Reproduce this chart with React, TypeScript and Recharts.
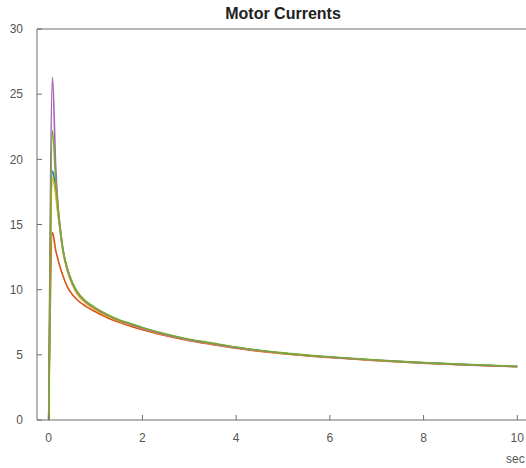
import React from 'react';
import { LineChart, Line, XAxis, YAxis } from 'recharts';

const time = [0, 0.08, 0.15, 0.2, 0.25, 0.3, 0.4, 0.5, 0.6, 0.8, 1, 1.25, 1.5, 1.75, 2, 2.5, 3, 3.5, 4, 5, 6, 7, 8, 9, 10];
const motor1 = [0, 19.1, 17.6, 15.9, 14.4, 13.1, 11.5, 10.5, 9.8, 9.0, 8.5, 8.0, 7.6, 7.3, 7.05, 6.55, 6.15, 5.85, 5.55, 5.12, 4.82, 4.58, 4.38, 4.23, 4.1];
const motor2 = [0, 14.4, 13.0, 12.3, 11.65, 11.1, 10.2, 9.65, 9.25, 8.7, 8.3, 7.85, 7.5, 7.2, 6.93, 6.46, 6.08, 5.78, 5.5, 5.08, 4.79, 4.55, 4.36, 4.21, 4.09];
const motor3 = [0, 18.6, 17.2, 15.7, 14.3, 13.0, 11.4, 10.4, 9.7, 8.95, 8.45, 7.95, 7.6, 7.3, 7.02, 6.52, 6.13, 5.83, 5.54, 5.11, 4.81, 4.57, 4.37, 4.22, 4.1];
const motor4 = [0, 26.3, 19.4, 16.4, 14.6, 13.2, 11.55, 10.55, 9.85, 9.05, 8.55, 8.05, 7.65, 7.35, 7.05, 6.55, 6.15, 5.85, 5.55, 5.12, 4.82, 4.58, 4.38, 4.23, 4.1];
const motor5 = [0, 22.2, 18.3, 16.2, 14.6, 13.2, 11.6, 10.6, 9.9, 9.1, 8.6, 8.1, 7.7, 7.4, 7.1, 6.6, 6.2, 5.9, 5.6, 5.15, 4.85, 4.6, 4.4, 4.25, 4.12];

const xTicks = [0, 2, 4, 6, 8, 10];
const yTicks = [0, 5, 10, 15, 20, 25, 30];

const series = [
  { key: 'm1', values: motor1, color: '#0072BD' },
  { key: 'm2', values: motor2, color: '#D95319' },
  { key: 'm3', values: motor3, color: '#EDB120' },
  { key: 'm4', values: motor4, color: '#A566B5' },
  { key: 'm5', values: motor5, color: '#77AC30' },
];

const data = time.map((t, i) => {
  const row: Record<string, number> = { t };
  series.forEach((s) => { row[s.key] = s.values[i]; });
  return row;
});

const font = '"Liberation Sans", Arial, Helvetica, sans-serif';
const axisColor = '#6e6e6e';
const tickStyle = { fontSize: 12, fill: '#555', fontFamily: font };

export default function App() {
  return (
    <div style={{ position: 'absolute', left: 0, top: 0, width: 526, height: 468, overflow: 'hidden', background: '#fff' }}>
      <LineChart
        width={560}
        height={468}
        data={data}
        margin={{ top: 28, right: 30, bottom: 18, left: 0 }}
      >
        <XAxis
          xAxisId="b"
          dataKey="t"
          type="number"
          domain={[-0.25, 10.25]}
          ticks={xTicks}
          allowDataOverflow
          height={30}
          tickSize={-5}
          tickMargin={18}
          stroke={axisColor}
          tick={tickStyle}
        />
        <XAxis
          xAxisId="top"
          dataKey="t"
          type="number"
          orientation="top"
          domain={[-0.25, 10.25]}
          ticks={xTicks}
          allowDataOverflow
          height={1}
          tickSize={-5}
          tick={false}
          stroke={axisColor}
        />
        <YAxis
          yAxisId="l"
          type="number"
          domain={[0, 30]}
          ticks={yTicks}
          width={37}
          tickSize={-5}
          tickMargin={19}
          stroke={axisColor}
          tick={tickStyle}
        />
        <YAxis
          yAxisId="r"
          type="number"
          orientation="right"
          domain={[0, 30]}
          ticks={yTicks}
          width={1}
          tickSize={-5}
          tick={false}
          stroke={axisColor}
        />
        {series.map((s) => (
          <Line
            key={s.key}
            xAxisId="b"
            yAxisId="l"
            dataKey={s.key}
            type="monotone"
            stroke={s.color}
            strokeWidth={1.6}
            dot={false}
            isAnimationActive={false}
          />
        ))}
      </LineChart>
      <div style={{ position: 'absolute', left: 0, width: 566, top: 5, textAlign: 'center', fontFamily: font, fontWeight: 'bold', fontSize: 16, color: '#222', lineHeight: '18px' }}>
        Motor Currents
      </div>
      <div style={{ position: 'absolute', left: 506, top: 452, fontFamily: font, fontSize: 12, color: '#555', lineHeight: '14px' }}>
        sec
      </div>
    </div>
  );
}
